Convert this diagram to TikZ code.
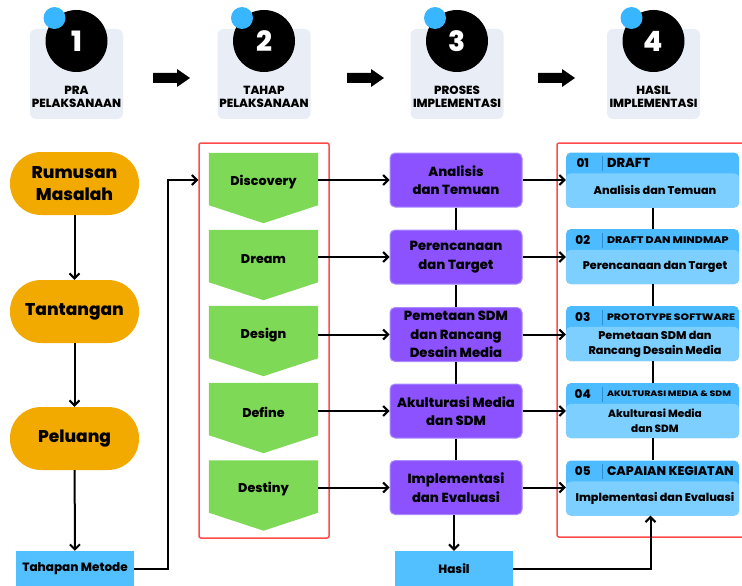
\documentclass[tikz,border=0pt]{standalone}
\usepackage{fontspec}
\setmainfont{Poppins}[BoldFont={Poppins ExtraBold}]
\usetikzlibrary{arrows.meta,calc}
\definecolor{greybox}{HTML}{E9EEF6}
\definecolor{dotblue}{HTML}{38B6FF}
\definecolor{orangec}{HTML}{F2AA00}
\definecolor{greenc}{HTML}{7ED957}
\definecolor{purplec}{HTML}{8C52FF}
\definecolor{purpleb}{HTML}{A98BFF}
\definecolor{lblue}{HTML}{52C0FF}
\definecolor{cardhead}{HTML}{4DBBFF}
\definecolor{cardbody}{HTML}{7DCFFF}
\definecolor{redc}{HTML}{FF4A4A}
\definecolor{sepc}{HTML}{2E8FD0}
\begin{document}
\begin{tikzpicture}[x=1pt,y=-1pt,font=\bfseries]
\tikzset{
  stepcard/.style={fill=greybox, rounded corners=6pt, minimum width=93pt, minimum height=90pt, inner sep=0pt},
  numcirc/.style={circle, fill=black, minimum size=62pt, inner sep=0pt, text=white, font=\bfseries\fontsize{28}{30}\selectfont},
  bluedot/.style={circle, fill=dotblue, minimum size=22pt, inner sep=0pt},
  steplabel/.style={align=center, font=\bfseries\fontsize{11.8}{13}\selectfont, inner sep=0pt},
  stad/.style={fill=orangec, rounded corners=31pt, minimum width=129pt, minimum height=63pt, align=center, inner sep=0pt, font=\bfseries\fontsize{17}{22}\selectfont},
  chevbox/.style={minimum width=109pt, minimum height=52pt, inner sep=0pt},
  chevtxt/.style={inner sep=0pt, font=\bfseries\fontsize{12.7}{13}\selectfont},
  pbox/.style={fill=purplec, draw=purpleb, line width=1pt, rounded corners=5pt, minimum width=132pt, minimum height=54pt, inner sep=0pt, align=center, font=\bfseries\fontsize{13.2}{18.5}\selectfont},
  lbox/.style={fill=lblue, minimum width=118pt, minimum height=36pt, inner sep=0pt, font=\bfseries\fontsize{12}{12}\selectfont},
  redbox/.style={draw=redc, line width=1.5pt, rounded corners=2pt, inner sep=0pt},
  card/.style={fill=cardhead, rounded corners=5pt, minimum width=173pt, minimum height=55pt, inner sep=0pt},
  cardnum/.style={inner sep=0pt, font=\bfseries\fontsize{12}{12}\selectfont},
  cardhd/.style={anchor=west, inner sep=0pt},
  cardtxt/.style={align=center, inner sep=0pt, font=\bfseries\fontsize{11.2}{15}\selectfont},
  conn/.style={line width=2pt, -{Straight Barb[length=5pt,width=10pt]}},
  plainconn/.style={line width=2pt},
}
\useasboundingbox (0,0) rectangle (742,586);

% ---------- top row ----------
\foreach \i/\cx/\la/\lb in {1/76.5/PRA/PELAKSANAAN, 2/264/TAHAP/PELAKSANAAN, 3/457/PROSES/IMPLEMENTASI, 4/653.5/HASIL/IMPLEMENTASI}{
  \node[stepcard] (s\i) at (\cx,74) {};
  \node[numcirc] (n\i) at (\cx,41) {\i};
  \node[bluedot] (b\i) at ($(n\i)+(-22,-23)$) {};
  \node[steplabel] (l\i) at (\cx,96.5) {\la\\\lb};
}
\foreach \x in {153,347,538}{
  \fill (\x,73) -- ++(24,0) -- ++(0,-4) -- ++(13,9) -- ++(-13,9) -- ++(0,-4) -- ++(-24,0) -- cycle;
}

% ---------- left column ----------
\node[stad] (rm) at (74.5,183.5) {Rumusan\\Masalah};
\node[stad] (tt) at (74.5,311.5) {Tantangan};
\node[stad] (pl) at (74.5,438.5) {Peluang};
\node[lbox] (tm) at (75,569) {Tahapan Metode};
\draw[conn] (rm) -- (tt);
\draw[conn] (tt) -- (pl);
\draw[conn] (pl) -- (tm);

% ---------- red frames ----------
\node[redbox, minimum width=130pt, minimum height=395pt] (r1) at (264,340.5) {};
\node[redbox, minimum width=190pt, minimum height=394pt] (r2) at (652,340) {};

% ---------- chevrons ----------
\foreach \i/\cy/\t in {1/179/Discovery, 2/256/Dream, 3/332/Design, 4/409/Define, 5/486.5/Destiny}{
  \node[chevbox] (c\i) at (263.5,\cy) {};
  \fill[greenc] (c\i.north west) -- (c\i.north east) -- (c\i.south east) -- ($(c\i.south)+(0,18)$) -- (c\i.south west) -- cycle;
  \node[chevtxt] (ct\i) at ($(c\i.center)+(0,3)$) {\t};
}

% ---------- purple boxes ----------
\node[pbox] (p1) at (456,180) {Analisis\\dan Temuan};
\node[pbox] (p2) at (456,257) {Perencanaan\\dan Target};
\node[pbox] (p3) at (456,334.5) {Pemetaan SDM\\dan Rancang\\Desain Media};
\node[pbox] (p4) at (456,411) {Akulturasi Media\\dan SDM};
\node[pbox] (p5) at (456,487.5) {Implementasi\\dan Evaluasi};
\node[lbox] (hs) at (454,569) {Hasil};

\draw[plainconn] (p1) -- (p2);
\draw[plainconn] (p2) -- (p3);
\draw[plainconn] (p3) -- (p4);
\draw[plainconn] (p4) -- (p5);
\draw[conn] (p5.south -| hs.north) -- (hs.north);

\foreach \i in {1,...,5}{
  \draw[conn] (c\i.east |- p\i.west) -- (p\i.west);
}

% ---------- cards ----------
\foreach \i/\cy in {1/180, 2/256.5, 3/333.5, 4/410.5, 5/488}{
  \node[card] (k\i) at (652.5,\cy) {};
  \fill[cardbody, rounded corners=5pt] ($(k\i.north west)+(0,21)$) rectangle (k\i.south east);
  \draw[sepc, line width=0.4pt] ($(k\i.north west)+(36,4)$) -- ($(k\i.north west)+(36,19)$);
  \node[cardnum] (kn\i) at ($(k\i.north west)+(17,11)$) {0\i};
}
\node[cardhd, font=\bfseries\fontsize{13}{13}\selectfont] (kh1) at ($(k1.north west)+(41,11)$) {DRAFT};
\node[cardhd, font=\bfseries\fontsize{9.6}{10}\selectfont] (kh2) at ($(k2.north west)+(41,11)$) {\scalebox{1.15}[1]{DRAFT DAN MINDMAP}};
\node[cardhd, font=\bfseries\fontsize{9.3}{10}\selectfont] (kh3) at ($(k3.north west)+(41,11)$) {\scalebox{1.17}[1]{PROTOTYPE SOFTWARE}};
\node[cardhd, font=\bfseries\fontsize{7.9}{9}\selectfont] (kh4) at ($(k4.north west)+(41,11)$) {\scalebox{1.18}[1]{AKULTURASI MEDIA \& SDM}};
\node[cardhd, font=\bfseries\fontsize{12.5}{13}\selectfont] (kh5) at ($(k5.north west)+(41,11)$) {CAPAIAN KEGIATAN};

\node[cardtxt] (kt1) at ($(k1.south)+(2.5,-17.5)$) {Analisis dan Temuan};
\node[cardtxt] (kt2) at ($(k2.south)+(2.5,-17)$) {Perencanaan dan Target};
\node[cardtxt] (kt3) at ($(k3.south)+(2.5,-16.5)$) {Pemetaan SDM dan\\Rancang Desain Media};
\node[cardtxt, font=\bfseries\fontsize{10.5}{15}\selectfont] (kt4) at ($(k4.south)+(2.5,-17)$) {Akulturasi Media\\dan SDM};
\node[cardtxt] (kt5) at ($(k5.south)+(2.5,-17)$) {Implementasi dan Evaluasi};

\draw[plainconn] (k1) -- (k2);
\draw[plainconn] (k2) -- (k3);
\draw[plainconn] (k3) -- (k4);
\draw[plainconn] (k4) -- (k5);

\foreach \i in {1,...,5}{
  \draw[conn] (p\i.east) -- (k\i.west |- p\i.east);
}

% ---------- long connectors ----------
\draw[conn] (tm.east) -- (168,569) |- (r1.west |- p1.west);
\draw[conn] (hs.east) -| ($(k5.south)+(-2,0)$);
\end{tikzpicture}
\end{document}
